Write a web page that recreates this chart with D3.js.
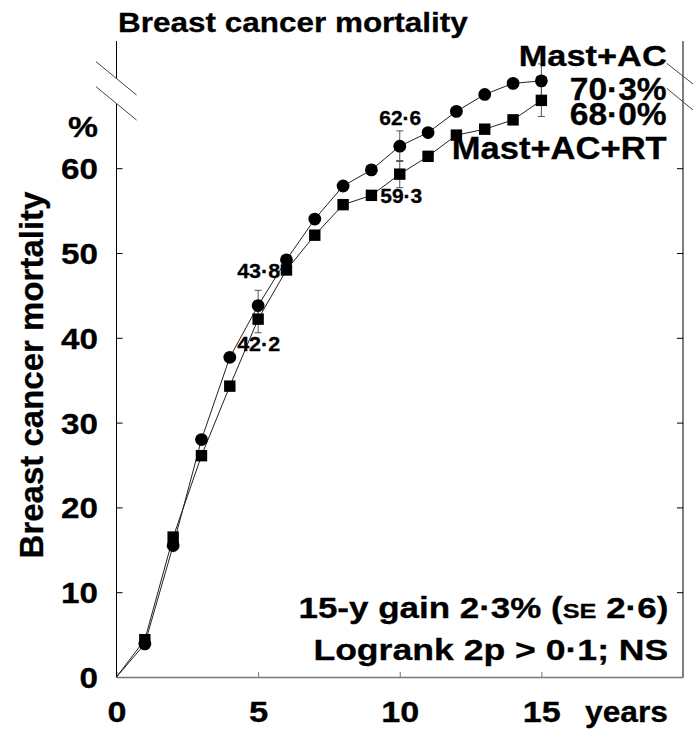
<!DOCTYPE html>
<html><head><meta charset="utf-8">
<script src="https://cdn.jsdelivr.net/npm/d3@7"></script>
<style>body{margin:0;background:#fff}svg text{font-family:"Liberation Sans",Arial,sans-serif;font-weight:bold;fill:#000;stroke:#000;stroke-width:0.3px}</style>
</head><body><svg id="c" width="693" height="729"></svg>
<script>
// ---- data ----
const years    = [0, 1, 2, 3, 4, 5, 6, 7, 8, 9, 10, 11, 12, 13, 14, 15];
const mastAC   = [0, 3.9, 15.5, 28.0, 37.7, 43.8, 49.2, 54.0, 57.9, 59.8, 62.6, 64.2, 66.7, 68.7, 70.0, 70.3];
const mastACRT = [0, 4.4, 16.5, 26.1, 34.3, 42.2, 48.0, 52.1, 55.7, 56.8, 59.3, 61.4, 63.9, 64.6, 65.7, 68.0];
const seYears  = [5, 10, 15];
const seAC     = [1.8, 1.8, 2.0];
const seACRT   = [1.6, 1.6, 1.9];
const yTicks   = [0, 10, 20, 30, 40, 50, 60];
const xTicks   = [0, 5, 10, 15];
const annoYears = [5, 5, 10, 10];
const annoText  = ["43·8", "42·2", "62·6", "59·3"];

const svg = d3.select("#c");
const x = d3.scaleLinear().domain([0, 20]).range([116.5, 683]);
const y = d3.scaleLinear().domain([0, 75]).range([677, 41]);

function fitText(t, w) {
  const bw = t.node().getComputedTextLength();
  const tr = t.attr("data-tr");
  t.attr("transform", tr + ` scale(${w / bw},1)`);
}
function placeText(txt, px, py, size, anchor, w) {
  const t = svg.append("text").attr("x", 0).attr("y", 0)
    .attr("font-size", size).attr("text-anchor", anchor)
    .attr("data-tr", `translate(${px},${py})`).attr("transform", `translate(${px},${py})`)
    .text(txt);
  if (w) fitText(t, w);
  return t;
}

// ---- axes ----
const yAxis = d3.axisLeft(y).tickValues(yTicks).tickSizeInner(-6).tickSizeOuter(0).tickPadding(18.5);
const gy = svg.append("g").attr("transform", `translate(${x(0)},0)`).call(yAxis);
gy.select(".domain").remove();
gy.selectAll(".tick line").attr("stroke", "#000");
gy.selectAll(".tick text").attr("font-size", 30).attr("dy", "0.35em")
  .attr("font-family", null)
  .attr("textLength", d => String(d).length * 18.5).attr("lengthAdjust", "spacingAndGlyphs");

const yAxisR = d3.axisRight(y).tickValues(yTicks.slice(1)).tickSizeInner(-6).tickSizeOuter(0).tickFormat("");
const gyr = svg.append("g").attr("transform", `translate(${x(20)},0)`).call(yAxisR);
gyr.select(".domain").remove();
gyr.selectAll(".tick line").attr("stroke", "#000");

const xAxis = d3.axisBottom(x).tickValues(xTicks).tickSizeInner(-5).tickSizeOuter(0).tickPadding(24);
const gx = svg.append("g").attr("transform", `translate(0,${y(0)})`).call(xAxis);
gx.select(".domain").attr("stroke", "#777").attr("stroke-width", 1.4);
gx.selectAll(".tick line").attr("stroke", "#777");
gx.selectAll(".tick text").attr("font-size", 29).attr("font-family", null)
  .attr("textLength", d => String(d).length * 19).attr("lengthAdjust", "spacingAndGlyphs");

// left axis line with break
const lx = x(0);
svg.append("line").attr("x1", lx).attr("x2", lx).attr("y1", y(75)).attr("y2", 78.5).attr("stroke", "#000");
svg.append("line").attr("x1", lx).attr("x2", lx).attr("y1", 103.5).attr("y2", y(0)).attr("stroke", "#000");
// right axis line
svg.append("line").attr("x1", x(20)).attr("x2", x(20)).attr("y1", y(75)).attr("y2", y(0)).attr("stroke", "#000");
// break marks
const brk = [[lx - 20.5, 61.7, lx + 20, 95], [lx - 20.5, 86.7, lx + 20, 120],
             [x(20) - 16.3, 63.3, x(20) + 10, 84], [x(20) - 16.3, 88.3, x(20) + 10, 110]];
svg.selectAll("line.brk").data(brk).join("line").attr("class", "brk")
  .attr("x1", d => d[0]).attr("y1", d => d[1]).attr("x2", d => d[2]).attr("y2", d => d[3])
  .attr("stroke", "#444").attr("stroke-width", 1);

// ---- lines ----
const line = d3.line().x((d, i) => x(years[i])).y(d => y(d));
[mastAC, mastACRT].forEach(s => {
  svg.append("path").attr("d", line(s)).attr("fill", "none").attr("stroke", "#222").attr("stroke-width", 1);
});

// ---- error bars ----
function errBars(vals, se) {
  seYears.forEach((yr, i) => {
    const v = vals[years.indexOf(yr)];
    const g = svg.append("g").attr("stroke", "#555").attr("stroke-width", 1);
    g.append("line").attr("x1", x(yr)).attr("x2", x(yr)).attr("y1", y(v - se[i])).attr("y2", y(v + se[i]));
    [v - se[i], v + se[i]].forEach(e =>
      g.append("line").attr("x1", x(yr) - 3.5).attr("x2", x(yr) + 3.5).attr("y1", y(e)).attr("y2", y(e)));
  });
}
errBars(mastAC, seAC);
errBars(mastACRT, seACRT);

// ---- markers ----
const pts = years.map((yr, i) => ({ yr, ac: mastAC[i], rt: mastACRT[i] })).filter(d => d.yr > 0);
svg.selectAll("rect.sq").data(pts).join("rect").attr("class", "sq")
  .attr("x", d => x(d.yr) - 5.7).attr("y", d => y(d.rt) - 5.7).attr("width", 11.4).attr("height", 11.4).attr("fill", "#000");
svg.selectAll("circle.ci").data(pts).join("circle").attr("class", "ci")
  .attr("cx", d => x(d.yr)).attr("cy", d => y(d.ac)).attr("r", 6.4).attr("fill", "#000");

// ---- annotations ----
placeText(annoText[0], x(annoYears[0]) - 21, 278, 21, "start", 43);
placeText(annoText[1], x(annoYears[1]) - 21, 351, 21, "start", 43);
placeText(annoText[2], x(annoYears[2]) + 0.5, 125, 20, "middle", 42);
placeText(annoText[3], x(annoYears[3]) - 19.5, 203, 20, "start", 42);

placeText("Mast+AC", 666.7, 65.5, 30, "end", 148);
placeText("70·3%", 666.7, 99.5, 31, "end", 97);
placeText("68·0%", 666.7, 124.5, 31, "end", 97);
placeText("Mast+AC+RT", 666.7, 158.5, 31, "end", 215);

// title
placeText("Breast cancer mortality", 118, 32, 27, "start", 350);
// y label
svg.append("text").attr("transform", "translate(43,375) rotate(-90)").attr("text-anchor", "middle")
  .attr("font-size", 33).text("Breast cancer mortality");
placeText("%", 98, 137, 30, "end", 30);
placeText("years", 668, 722, 29, "end", 83);

// stats text
const t1 = svg.append("text").attr("x", 0).attr("y", 0).attr("font-size", 29).attr("text-anchor", "end")
  .attr("data-tr", "translate(668.3,618)").attr("transform", "translate(668.3,618)");
t1.append("tspan").text("15-y gain 2·3% (");
t1.append("tspan").attr("font-size", 21).text("SE");
t1.append("tspan").text(" 2·6)");
fitText(t1, 370);
placeText("Logrank 2p > 0·1; NS", 668.3, 660, 29, "end", 355);
</script></body></html>
